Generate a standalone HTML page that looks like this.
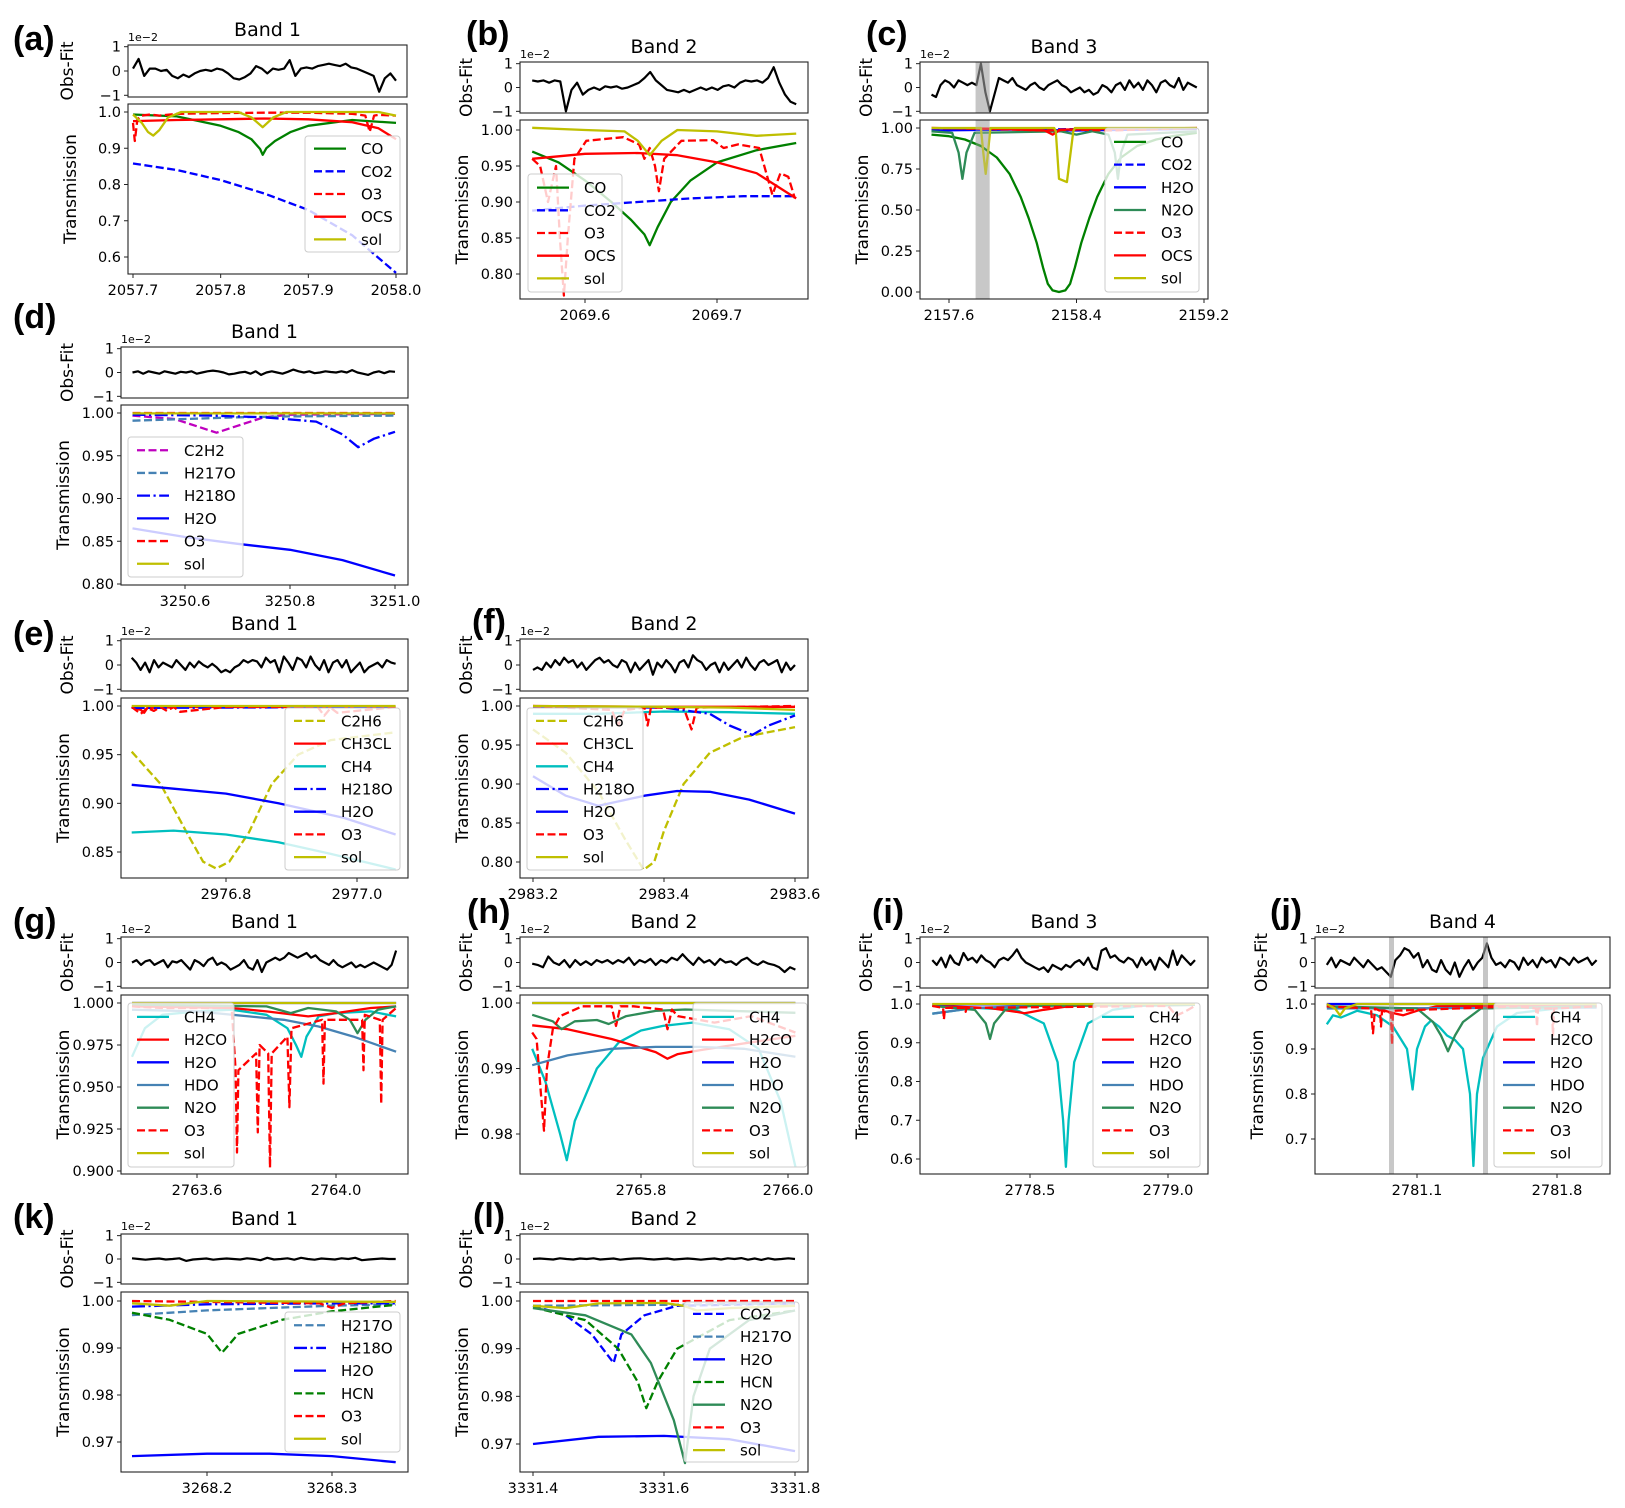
<!DOCTYPE html>
<html><head><meta charset="utf-8"><title>Retrieval fits</title>
<style>
html,body{margin:0;padding:0;background:#fff;}
svg{display:block;font-family:"DejaVu Sans","Liberation Sans",sans-serif;}
</style></head>
<body>
<svg id="fig" xmlns="http://www.w3.org/2000/svg" width="1625" height="1508" viewBox="0 0 1625 1508"></svg>
<script>
// ---------- data arrays ----------
// panel a
const a_CO_wn=[2057.7,2057.75,2057.8,2057.82,2057.835,2057.845,2057.848,2057.852,2057.862,2057.88,2057.9,2057.95,2058.0];
const a_CO_tr=[0.993,0.988,0.962,0.945,0.925,0.898,0.882,0.9,0.92,0.945,0.962,0.978,0.97];
const a_CO2_wn=[2057.7,2057.75,2057.8,2057.85,2057.9,2057.95,2058.0];
const a_CO2_tr=[0.858,0.84,0.812,0.775,0.73,0.66,0.556];
const a_O3_wn=[2057.7,2057.702,2057.705,2057.71,2057.72,2057.73,2057.75,2057.8,2057.85,2057.9,2057.95,2057.965,2057.97,2057.975,2057.98,2058.0];
const a_O3_tr=[0.97,0.92,0.98,0.99,0.993,0.99,0.995,0.997,0.998,0.998,0.995,0.99,0.945,0.99,0.992,0.99];
const a_OCS_wn=[2057.7,2057.75,2057.8,2057.85,2057.9,2057.95,2057.98,2058.0];
const a_OCS_tr=[0.975,0.978,0.98,0.982,0.98,0.972,0.955,0.925];
const a_sol_wn=[2057.7,2057.71,2057.717,2057.723,2057.73,2057.74,2057.755,2057.82,2057.835,2057.848,2057.86,2057.875,2057.98,2058.0];
const a_sol_tr=[0.993,0.97,0.945,0.935,0.95,0.985,1.0,1.0,0.985,0.958,0.985,1.0,1.0,0.99];
const a_res=[0.1,0.5,-0.2,0.1,0.1,0,0.05,-0.2,-0.3,-0.15,-0.25,-0.1,0,0.05,0,0.1,0.05,-0.1,-0.3,-0.35,-0.25,-0.1,0.2,0.1,-0.1,0.1,0.05,0.1,0.45,-0.2,0.1,0.15,0.1,0.2,0.25,0.3,0.25,0.2,0.3,0.15,0.1,0,-0.1,-0.2,-0.85,-0.3,-0.1,-0.4];
// panel b
const b_CO_wn=[2069.56,2069.58,2069.6,2069.62,2069.635,2069.645,2069.649,2069.655,2069.665,2069.68,2069.7,2069.73,2069.76];
const b_CO_tr=[0.97,0.955,0.93,0.9,0.875,0.855,0.84,0.865,0.9,0.93,0.955,0.972,0.982];
const b_CO2_wn=[2069.56,2069.6,2069.64,2069.68,2069.72,2069.76];
const b_CO2_tr=[0.888,0.895,0.9,0.905,0.908,0.908];
const b_O3_wn=[2069.56,2069.566,2069.572,2069.578,2069.581,2069.584,2069.587,2069.592,2069.601,2069.629,2069.641,2069.645,2069.649,2069.653,2069.656,2069.66,2069.673,2069.697,2069.705,2069.716,2069.732,2069.742,2069.748,2069.754,2069.759];
const b_O3_tr=[0.96,0.95,0.9,0.95,0.85,0.77,0.85,0.96,0.985,0.99,0.98,0.96,0.975,0.95,0.915,0.96,0.985,0.986,0.975,0.98,0.975,0.91,0.94,0.935,0.905];
const b_OCS_wn=[2069.56,2069.6,2069.64,2069.67,2069.7,2069.73,2069.76];
const b_OCS_tr=[0.96,0.967,0.968,0.965,0.955,0.94,0.905];
const b_sol_wn=[2069.56,2069.6,2069.63,2069.64,2069.649,2069.658,2069.67,2069.7,2069.73,2069.76];
const b_sol_tr=[1.003,1.0,0.998,0.985,0.965,0.985,1.0,0.998,0.992,0.995];
const b_res=[0.3,0.25,0.3,0.2,0.3,0.25,-1.0,-0.1,0.2,-0.3,-0.1,0,-0.1,0.05,0,0.05,-0.05,0,0.1,0.2,0.4,0.65,0.3,0.1,-0.1,-0.15,-0.2,-0.1,-0.2,-0.1,0,-0.1,0,-0.1,0.05,0.1,0,0.2,0.3,0.25,0.3,0.2,0.4,0.85,0.2,-0.3,-0.6,-0.7];
// panel c
const c_CO_wn=[2157.49,2157.6,2157.7,2157.8,2157.9,2157.98,2158.05,2158.1,2158.15,2158.19,2158.22,2158.25,2158.29,2158.33,2158.36,2158.39,2158.43,2158.48,2158.53,2158.6,2158.68,2158.78,2158.9,2159.0,2159.155];
const c_CO_tr=[0.96,0.95,0.93,0.89,0.82,0.72,0.58,0.45,0.3,0.15,0.05,0.01,0.0,0.01,0.05,0.15,0.3,0.45,0.58,0.72,0.82,0.89,0.93,0.95,0.97];
const c_CO2_wn=[2157.49,2159.155];
const c_CO2_tr=[0.99,0.995];
const c_H2O_wn=[2157.49,2158.0,2158.4,2159.155];
const c_H2O_tr=[0.985,0.99,0.985,0.995];
const c_N2O_wn=[2157.49,2157.62,2157.66,2157.684,2157.71,2157.76,2158.3,2158.4,2158.5,2158.6,2158.64,2158.66,2158.68,2158.72,2159.155];
const c_N2O_tr=[0.98,0.97,0.85,0.69,0.85,0.97,0.98,0.96,0.98,0.96,0.85,0.69,0.85,0.96,0.98];
const c_O3_wn=[2157.49,2157.8,2158.0,2158.2,2158.4,2158.6,2158.8,2159.155];
const c_O3_tr=[1.0,0.995,0.99,0.985,0.99,0.985,0.99,1.0];
const c_OCS_wn=[2157.49,2157.9,2158.2,2158.25,2158.3,2158.6,2159.155];
const c_OCS_tr=[1.0,0.995,0.985,0.96,0.99,0.995,1.0];
const c_sol_wn=[2157.49,2157.8,2157.815,2157.83,2157.845,2157.86,2158.26,2158.27,2158.29,2158.34,2158.38,2158.39,2159.155];
const c_sol_tr=[1.0,1.0,0.85,0.72,0.85,1.0,1.0,0.98,0.69,0.67,0.98,1.0,1.0];
const c_bands=[[2157.767,2157.855]];
const c_res=[-0.3,-0.4,0.1,0.3,0.2,0,0.3,0.2,0.1,0.2,0.1,1.0,-0.2,-1.0,-0.3,0.4,0.3,0.2,0.4,0.1,0,-0.1,0.1,0.2,0,-0.1,0.1,0.2,0.3,0.1,0,-0.2,-0.1,0,-0.2,-0.1,-0.3,-0.2,0.1,0,-0.2,0.1,0.2,-0.1,0.3,0,0.2,-0.1,0.3,0.1,-0.2,0.2,0.3,0.1,0,0.4,-0.1,0.2,0.1,0];
// panel d
const d_C2H2_wn=[3250.5,3250.58,3250.62,3250.66,3250.7,3250.75,3250.8,3251.0];
const d_C2H2_tr=[0.997,0.993,0.985,0.977,0.985,0.995,0.998,0.999];
const d_H217O_wn=[3250.5,3250.6,3250.7,3250.8,3251.0];
const d_H217O_tr=[0.991,0.993,0.995,0.996,0.997];
const d_H218O_wn=[3250.5,3250.65,3250.75,3250.85,3250.9,3250.93,3250.96,3251.0];
const d_H218O_tr=[0.998,0.997,0.995,0.99,0.975,0.96,0.97,0.978];
const d_H2O_wn=[3250.5,3250.6,3250.7,3250.8,3250.9,3251.0];
const d_H2O_tr=[0.865,0.855,0.847,0.84,0.828,0.81];
const d_O3_wn=[3250.5,3251.0];
const d_O3_tr=[1.0,1.0];
const d_sol_wn=[3250.5,3251.0];
const d_sol_tr=[0.9995,0.9995];
const d_res=[0,0.05,-0.05,0.05,0,-0.05,0.05,0,-0.05,0.03,0,0.05,-0.05,0,0.05,0.08,0.05,0,-0.08,-0.05,0,0.03,-0.05,0.05,-0.1,0,0.05,0,-0.05,0.03,0.12,0.05,0,0.05,-0.03,0,0.05,0.02,0,0.05,0,0.1,0,-0.05,-0.1,0,0.05,-0.03,0.05,0.03];
// panel e
const e_C2H6_wn=[2976.656,2976.7,2976.74,2976.765,2976.785,2976.805,2976.835,2976.87,2976.91,2976.96,2977.059];
const e_C2H6_tr=[0.953,0.92,0.87,0.84,0.833,0.84,0.87,0.92,0.95,0.965,0.973];
const e_CH3CL_wn=[2976.656,2976.67,2976.675,2976.68,2976.75,2977.059];
const e_CH3CL_tr=[0.999,0.996,0.993,0.998,0.999,0.999];
const e_CH4_wn=[2976.656,2976.72,2976.8,2976.88,2976.96,2977.059];
const e_CH4_tr=[0.87,0.872,0.868,0.86,0.848,0.832];
const e_H218O_wn=[2976.656,2977.059];
const e_H218O_tr=[0.998,0.999];
const e_H2O_wn=[2976.656,2976.72,2976.8,2976.88,2976.98,2977.059];
const e_H2O_tr=[0.919,0.915,0.91,0.9,0.885,0.868];
const e_O3_wn=[2976.656,2976.67,2976.68,2976.69,2976.7,2976.71,2976.72,2976.73,2976.8,2976.94,2976.95,2976.96,2976.97,2977.059];
const e_O3_tr=[0.999,0.992,0.998,0.995,0.999,0.995,0.999,0.994,0.999,0.999,0.99,0.998,0.993,0.999];
const e_sol_wn=[2976.656,2977.059];
const e_sol_tr=[1.0,1.0];
const e_res=[0.3,0.1,-0.2,0.1,-0.3,0.2,-0.1,0.1,0,-0.1,0.2,0,-0.2,0.1,-0.1,0.15,0,-0.1,0.05,-0.1,-0.3,-0.2,-0.3,-0.1,0,0.2,0.1,0.2,0.15,-0.1,0.3,0.1,0.2,-0.3,0.35,0.1,-0.2,0.3,0.2,-0.1,0.35,0,-0.2,0.2,-0.3,0.1,0.2,-0.1,0.2,-0.3,-0.1,0.1,-0.3,-0.1,0,0.1,-0.1,0.2,0.1,0.05];
// panel f
const f_C2H6_wn=[2983.2,2983.25,2983.3,2983.34,2983.369,2983.385,2983.4,2983.43,2983.47,2983.52,2983.6];
const f_C2H6_tr=[0.97,0.94,0.89,0.83,0.79,0.8,0.84,0.9,0.94,0.96,0.973];
const f_CH3CL_wn=[2983.2,2983.4,2983.5,2983.6];
const f_CH3CL_tr=[1.0,0.999,0.999,0.999];
const f_CH4_wn=[2983.2,2983.3,2983.4,2983.5,2983.6];
const f_CH4_tr=[0.99,0.99,0.993,0.992,0.99];
const f_H218O_wn=[2983.2,2983.4,2983.47,2983.5,2983.535,2983.56,2983.6];
const f_H218O_tr=[0.999,0.998,0.99,0.975,0.963,0.975,0.988];
const f_H2O_wn=[2983.2,2983.25,2983.3,2983.37,2983.42,2983.47,2983.53,2983.6];
const f_H2O_tr=[0.91,0.885,0.872,0.885,0.891,0.89,0.88,0.862];
const f_O3_wn=[2983.2,2983.32,2983.33,2983.34,2983.37,2983.375,2983.38,2983.43,2983.442,2983.45,2983.6];
const f_O3_tr=[1.0,0.995,0.975,0.995,0.998,0.975,0.998,0.998,0.97,0.998,1.0];
const f_sol_wn=[2983.2,2983.4,2983.5,2983.6];
const f_sol_tr=[1.0,0.999,0.998,0.995];
const f_res=[-0.2,-0.1,-0.2,0.1,-0.1,0.2,0,0.3,0.1,0.2,-0.1,0.1,-0.2,0,0.2,0.3,0.1,0.2,0,-0.1,0.2,0.1,-0.3,0.1,-0.2,0,0.2,-0.4,0.1,-0.1,0.2,0,-0.3,0.1,0.2,-0.1,0.4,0.2,0.1,-0.2,0,0.1,-0.3,0.1,-0.2,0,0.2,-0.1,0.3,0,-0.2,0.1,0.2,0,0.1,0.2,-0.3,0.1,-0.2,0];
// panel g
const g_CH4_wn=[2763.413,2763.45,2763.5,2763.6,2763.7,2763.8,2763.86,2763.885,2763.9,2763.915,2763.95,2764.0,2764.1,2764.173];
const g_CH4_tr=[0.968,0.985,0.993,0.995,0.996,0.993,0.985,0.975,0.968,0.98,0.992,0.994,0.995,0.992];
const g_H2CO_wn=[2763.413,2763.7,2763.8,2763.92,2764.0,2764.1,2764.173];
const g_H2CO_tr=[0.998,0.997,0.995,0.992,0.994,0.997,0.998];
const g_H2O_wn=[2763.413,2764.173];
const g_H2O_tr=[1.0,1.0];
const g_HDO_wn=[2763.413,2763.6,2763.75,2763.85,2763.95,2764.05,2764.173];
const g_HDO_tr=[0.996,0.995,0.992,0.99,0.986,0.98,0.971];
const g_N2O_wn=[2763.413,2763.8,2763.87,2763.92,2764.0,2764.04,2764.062,2764.085,2764.12,2764.173];
const g_N2O_tr=[0.999,0.998,0.994,0.997,0.995,0.99,0.982,0.99,0.996,0.998];
const g_O3_wn=[2763.413,2763.5,2763.7,2763.711,2763.715,2763.719,2763.77,2763.775,2763.78,2763.805,2763.81,2763.815,2763.86,2763.866,2763.872,2763.96,2763.964,2763.968,2764.075,2764.079,2764.083,2764.126,2764.13,2764.134,2764.173];
const g_O3_tr=[0.998,0.997,0.997,0.96,0.911,0.96,0.97,0.923,0.975,0.97,0.902,0.97,0.98,0.938,0.985,0.99,0.952,0.99,0.99,0.96,0.993,0.99,0.94,0.99,0.997];
const g_sol_wn=[2763.413,2764.173];
const g_sol_tr=[1.0,1.0];
const g_res=[0,0.1,-0.1,0.05,0.1,-0.1,0,0.1,-0.2,0.05,0,0.1,-0.1,-0.3,0.1,0,-0.15,0.1,0.2,-0.1,0,-0.1,-0.3,-0.2,-0.1,0.1,-0.2,-0.3,0.1,-0.4,0,0.1,0.2,0.1,0.2,0.4,0.3,0.2,0.3,0.4,0.2,0.3,0.1,0,-0.1,0.1,-0.1,-0.2,-0.1,0,-0.2,-0.1,-0.2,-0.1,0,-0.1,-0.2,-0.3,-0.1,0.5];
// panel h
const h_CH4_wn=[2765.652,2765.67,2765.69,2765.699,2765.71,2765.74,2765.77,2765.8,2765.83,2765.87,2765.92,2765.96,2765.99,2766.01];
const h_CH4_tr=[0.993,0.988,0.98,0.976,0.982,0.99,0.994,0.9958,0.9965,0.997,0.996,0.993,0.985,0.975];
const h_H2CO_wn=[2765.652,2765.7,2765.76,2765.82,2765.836,2765.85,2765.88,2765.92,2766.01];
const h_H2CO_tr=[0.9966,0.996,0.9945,0.9925,0.9915,0.9922,0.9928,0.9935,0.995];
const h_H2O_wn=[2765.652,2766.01];
const h_H2O_tr=[1.0,1.0];
const h_HDO_wn=[2765.652,2765.7,2765.76,2765.82,2765.88,2765.94,2766.01];
const h_HDO_tr=[0.9905,0.992,0.993,0.9933,0.9933,0.993,0.9918];
const h_N2O_wn=[2765.652,2765.68,2765.692,2765.71,2765.74,2765.756,2765.78,2765.82,2765.86,2766.01];
const h_N2O_tr=[0.9982,0.9972,0.996,0.9972,0.9974,0.9968,0.998,0.9988,0.999,0.9985];
const h_O3_wn=[2765.652,2765.658,2765.664,2765.668,2765.672,2765.68,2765.69,2765.72,2765.76,2765.766,2765.772,2765.79,2765.83,2765.836,2765.842,2765.85,2765.9,2765.95,2766.01];
const h_O3_tr=[0.9955,0.9945,0.986,0.9805,0.99,0.996,0.998,0.9995,0.9995,0.9965,0.9995,0.9995,0.999,0.996,0.999,0.998,0.997,0.998,0.9955];
const h_sol_wn=[2765.652,2766.01];
const h_sol_tr=[1.0,1.0];
const h_res=[-0.05,-0.1,-0.2,0.25,0,-0.1,0.1,-0.2,0.1,-0.1,0.05,-0.1,0.1,0,0.1,-0.05,0.1,0,0.2,-0.1,0.1,0,0.15,-0.1,0.1,0,0.2,0.1,0.35,0.1,-0.1,0.2,0,0.1,-0.1,0.15,0,0.05,-0.1,0.1,0.2,0,-0.1,0.05,-0.05,-0.1,-0.2,-0.4,-0.2,-0.3];
// panel i
const i_CH4_wn=[2778.146,2778.3,2778.45,2778.55,2778.6,2778.62,2778.63,2778.64,2778.66,2778.71,2778.8,2778.9,2779.098];
const i_CH4_tr=[0.975,0.99,0.985,0.95,0.85,0.7,0.58,0.7,0.85,0.95,0.985,0.995,0.998];
const i_H2CO_wn=[2778.146,2778.35,2778.45,2778.48,2778.55,2778.65,2779.098];
const i_H2CO_tr=[0.995,0.99,0.98,0.976,0.985,0.995,0.998];
const i_H2O_wn=[2778.146,2779.098];
const i_H2O_tr=[0.999,0.999];
const i_HDO_wn=[2778.146,2778.3,2778.6,2779.098];
const i_HDO_tr=[0.975,0.99,0.997,0.998];
const i_N2O_wn=[2778.146,2778.3,2778.34,2778.355,2778.37,2778.41,2778.5,2779.098];
const i_N2O_tr=[0.995,0.985,0.95,0.91,0.95,0.985,0.995,0.998];
const i_O3_wn=[2778.146,2778.185,2778.188,2778.192,2778.264,2778.267,2778.27,2779.0,2779.03,2779.06,2779.098];
const i_O3_tr=[0.995,0.99,0.96,0.99,0.99,0.98,0.99,0.995,0.97,0.98,0.995];
const i_sol_wn=[2778.146,2779.098];
const i_sol_tr=[1.0,1.0];
const i_res=[0.1,-0.1,0.2,-0.2,0.3,0,-0.1,0.4,0.1,0.2,0,0.3,0.1,0,-0.2,0.1,0.2,0.1,0.3,0.55,0.2,0,-0.1,-0.2,-0.3,-0.2,-0.4,-0.1,-0.2,-0.3,-0.1,-0.2,0,0.1,-0.1,0.2,-0.2,-0.3,0.5,0.6,0.2,0.3,0.1,0,0.2,0.1,-0.2,0.2,-0.1,0.1,-0.3,0.2,0,-0.2,0.5,-0.1,0.3,0.1,-0.1,0.1];
// panel j
const j_CH4_wn=[2780.649,2780.68,2780.72,2780.8,2780.9,2780.98,2781.05,2781.078,2781.1,2781.14,2781.17,2781.21,2781.25,2781.29,2781.33,2781.365,2781.382,2781.4,2781.43,2781.5,2781.6,2781.8,2781.998];
const j_CH4_tr=[0.955,0.975,0.97,0.985,0.975,0.95,0.9,0.81,0.9,0.95,0.963,0.95,0.93,0.92,0.9,0.8,0.64,0.8,0.88,0.95,0.98,0.99,0.995];
const j_H2CO_wn=[2780.649,2780.9,2780.98,2781.03,2781.1,2781.2,2781.998];
const j_H2CO_tr=[0.995,0.99,0.98,0.975,0.985,0.995,0.998];
const j_H2O_wn=[2780.649,2781.998];
const j_H2O_tr=[1.0,1.0];
const j_HDO_wn=[2780.649,2781.998];
const j_HDO_tr=[0.99,0.992];
const j_N2O_wn=[2780.649,2781.1,2781.18,2781.22,2781.255,2781.29,2781.33,2781.42,2781.998];
const j_N2O_tr=[0.995,0.99,0.96,0.93,0.895,0.93,0.96,0.99,0.995];
const j_O3_wn=[2780.649,2780.87,2780.88,2780.89,2780.915,2780.92,2780.925,2780.97,2780.975,2780.98,2781.6,2781.695,2781.7,2781.705,2781.775,2781.78,2781.785,2781.998];
const j_O3_tr=[0.995,0.99,0.935,0.99,0.985,0.95,0.985,0.98,0.91,0.985,0.995,0.99,0.95,0.99,0.99,0.93,0.99,0.995];
const j_sol_wn=[2780.649,2780.69,2780.715,2780.74,2780.8,2781.998];
const j_sol_tr=[1.0,0.99,0.975,0.99,1.0,1.0];
const j_bands=[[2780.96,2780.985],[2781.43,2781.455]];
const j_res=[-0.1,0.2,-0.2,0.1,0,-0.1,0.2,0,-0.2,0.1,-0.1,-0.3,-0.2,-0.4,-0.6,0.1,0.3,0.6,0.5,0.2,0.4,-0.2,0.1,-0.3,-0.4,0.1,-0.3,-0.5,0,-0.6,-0.2,0.1,-0.3,0,0.2,0.8,0.2,-0.1,0,-0.2,0.1,0,-0.3,0.2,-0.1,0.1,-0.2,0.2,0,0.1,-0.2,0.2,0.1,-0.1,0.2,0,0.1,0.2,-0.1,0.1];
// panel k
const k_H217O_wn=[3268.14,3268.2,3268.25,3268.3,3268.351];
const k_H217O_tr=[0.997,0.998,0.9985,0.999,0.9993];
const k_H218O_wn=[3268.14,3268.2,3268.3,3268.351];
const k_H218O_tr=[0.9988,0.9993,0.9995,0.9995];
const k_H2O_wn=[3268.14,3268.2,3268.25,3268.3,3268.351];
const k_H2O_tr=[0.967,0.9675,0.9675,0.967,0.9657];
const k_HCN_wn=[3268.14,3268.17,3268.2,3268.212,3268.225,3268.26,3268.3,3268.351];
const k_HCN_tr=[0.9975,0.996,0.993,0.989,0.993,0.996,0.9978,0.9992];
const k_O3_wn=[3268.14,3268.29,3268.3,3268.31,3268.351];
const k_O3_tr=[1.0,0.9995,0.9985,0.9995,1.0];
const k_sol_wn=[3268.14,3268.17,3268.2,3268.351];
const k_sol_tr=[0.9995,0.999,1.0,0.9998];
const k_res=[0.03,0,-0.03,0,0.02,-0.02,0,0.03,-0.08,-0.02,0,0.02,-0.03,0,0.02,0,-0.02,0.03,0,-0.05,0.05,-0.02,0,0.03,-0.03,0.05,0,-0.03,0.02,0,-0.02,0.03,0,0.05,-0.05,-0.02,0,0.02,0,0];
// panel l
const l_CO2_wn=[3331.4,3331.45,3331.49,3331.523,3331.535,3331.57,3331.62,3331.8];
const l_CO2_tr=[0.999,0.997,0.993,0.987,0.993,0.997,0.999,0.9995];
const l_H217O_wn=[3331.4,3331.6,3331.8];
const l_H217O_tr=[0.999,0.9992,0.9995];
const l_H2O_wn=[3331.4,3331.5,3331.6,3331.7,3331.8];
const l_H2O_tr=[0.97,0.9715,0.9717,0.971,0.9685];
const l_HCN_wn=[3331.4,3331.48,3331.53,3331.56,3331.573,3331.59,3331.62,3331.7,3331.8];
const l_HCN_tr=[0.9987,0.996,0.99,0.983,0.9775,0.983,0.99,0.996,0.998];
const l_N2O_wn=[3331.4,3331.48,3331.55,3331.58,3331.615,3331.632,3331.645,3331.67,3331.73,3331.8];
const l_N2O_tr=[0.9985,0.997,0.993,0.987,0.975,0.966,0.98,0.99,0.996,0.998];
const l_O3_wn=[3331.4,3331.8];
const l_O3_tr=[1.0,1.0];
const l_sol_wn=[3331.4,3331.45,3331.5,3331.6,3331.63,3331.65,3331.7,3331.8];
const l_sol_tr=[0.999,0.9985,0.9995,0.9996,0.999,0.998,0.9985,0.999];
const l_res=[0,0.02,0,-0.02,0.03,0,-0.02,0.02,0,0.03,-0.02,0,0.02,-0.03,0,0.02,0.03,0,-0.02,0,0.02,-0.02,0,0.02,0,-0.03,0,0.02,-0.02,0.03,0,0.04,-0.03,0.02,-0.04,0.03,-0.02,0,0.03,0];

// tick labels
const a_xt=["2057.7","2057.8","2057.9","2058.0"], a_yt=["1.0","0.9","0.8","0.7","0.6"];
const b_xt=["2069.6","2069.7"], b_yt=["1.00","0.95","0.90","0.85","0.80"];
const c_xt=["2157.6","2158.4","2159.2"], c_yt=["1.00","0.75","0.50","0.25","0.00"];
const d_xt=["3250.6","3250.8","3251.0"], d_yt=["1.00","0.95","0.90","0.85","0.80"];
const e_xt=["2976.8","2977.0"], e_yt=["1.00","0.95","0.90","0.85"];
const f_xt=["2983.2","2983.4","2983.6"], f_yt=["1.00","0.95","0.90","0.85","0.80"];
const g_xt=["2763.6","2764.0"], g_yt=["1.000","0.975","0.950","0.925","0.900"];
const h_xt=["2765.8","2766.0"], h_yt=["1.00","0.99","0.98"];
const i_xt=["2778.5","2779.0"], i_yt=["1.0","0.9","0.8","0.7","0.6"];
const j_xt=["2781.1","2781.8"], j_yt=["1.0","0.9","0.8","0.7"];
const k_xt=["3268.2","3268.3"], k_yt=["1.00","0.99","0.98","0.97"];
const l_xt=["3331.4","3331.6","3331.8"], l_yt=["1.00","0.99","0.98","0.97"];

// ---------- styles & layout ----------
const STY={CO:['#008000','s'],CO2:['#0000ff','d'],O3:['#ff0000','d'],OCS:['#ff0000','s'],sol:['#bfbf00','s'],H2O:['#0000ff','s'],N2O:['#2e8b57','s'],C2H2:['#bf00bf','d'],H217O:['#4682b4','d'],H218O:['#0000ff','dd'],C2H6:['#bfbf00','d'],CH3CL:['#ff0000','s'],CH4:['#00bfbf','s'],H2CO:['#ff0000','s'],HDO:['#4682b4','s'],HCN:['#008000','d']};
const P=[
 {id:'a',band:'Band 1',L:128,R:407,o:[45,97],t:[104,274],xr:[2057.7,133,2058.0,396],yr:[1,112,0.6,257],rng:[2057.7,2058.0],sp:['CO','CO2','O3','OCS','sol'],leg:[305,136,95,116],lab:[13,50],ol:55},
 {id:'b',band:'Band 2',L:520,R:808,o:[62,113],t:[120,299],xr:[2069.6,585,2069.7,717],yr:[1,130,0.8,274],rng:[2069.56,2069.76],sp:['CO','CO2','O3','OCS','sol'],leg:[528,174,94,118],lab:[466,45],ol:48},
 {id:'c',band:'Band 3',L:920,R:1208,o:[62,113],t:[120,299],xr:[2157.6,949,2159.2,1204],yr:[1,128,0,292],rng:[2157.49,2159.155],sp:['CO','CO2','H2O','N2O','O3','OCS','sol'],leg:[1105,128,94,164],lab:[866,45],ol:48},
 {id:'d',band:'Band 1',L:121,R:408,o:[347,398],t:[405,585],xr:[3250.6,185,3251.0,395],yr:[1,413,0.8,584],rng:[3250.5,3251.0],sp:['C2H2','H217O','H218O','H2O','O3','sol'],leg:[128,437,115,140],lab:[13,328],ol:48},
 {id:'e',band:'Band 1',L:121,R:408,o:[639,691],t:[698,878],xr:[2976.8,226,2977.0,357],yr:[1,706,0.85,852],rng:[2976.656,2977.059],sp:['C2H6','CH3CL','CH4','H218O','H2O','O3','sol'],leg:[285,708,115,162],lab:[13,645],ol:48},
 {id:'f',band:'Band 2',L:520,R:808,o:[639,691],t:[698,878],xr:[2983.2,533,2983.6,795],yr:[1,706,0.8,862],rng:[2983.2,2983.6],sp:['C2H6','CH3CL','CH4','H218O','H2O','O3','sol'],leg:[527,708,116,162],lab:[472,633],ol:48},
 {id:'g',band:'Band 1',L:121,R:408,o:[937,988],t:[995,1174],xr:[2763.6,197,2764.0,336],yr:[1,1003,0.9,1171],rng:[2763.413,2764.173],sp:['CH4','H2CO','H2O','HDO','N2O','O3','sol'],leg:[128,1003,106,164],lab:[13,932],ol:48},
 {id:'h',band:'Band 2',L:520,R:808,o:[937,988],t:[995,1174],xr:[2765.8,641,2766.0,788],yr:[1,1003,0.98,1134],rng:[2765.652,2766.01],sp:['CH4','H2CO','H2O','HDO','N2O','O3','sol'],leg:[693,1003,114,164],lab:[467,923],ol:48},
 {id:'i',band:'Band 3',L:920,R:1208,o:[937,988],t:[995,1174],xr:[2778.5,1030,2779.0,1168],yr:[1,1004,0.6,1159],rng:[2778.146,2779.098],sp:['CH4','H2CO','H2O','HDO','N2O','O3','sol'],leg:[1093,1003,107,164],lab:[872,923],ol:48},
 {id:'j',band:'Band 4',L:1315,R:1610,o:[937,988],t:[995,1174],xr:[2781.1,1417,2781.8,1557],yr:[1,1004,0.7,1139],rng:[2780.649,2781.998],sp:['CH4','H2CO','H2O','HDO','N2O','O3','sol'],leg:[1494,1003,108,164],lab:[1270,923],ol:48},
 {id:'k',band:'Band 1',L:121,R:408,o:[1234,1284],t:[1292,1472],xr:[3268.2,207,3268.3,332],yr:[1,1301,0.97,1442],rng:[3268.14,3268.351],sp:['H217O','H218O','H2O','HCN','O3','sol'],leg:[285,1312,115,140],lab:[13,1228],ol:48},
 {id:'l',band:'Band 2',L:520,R:808,o:[1234,1284],t:[1292,1472],xr:[3331.4,533,3331.8,795],yr:[1,1301,0.97,1444],rng:[3331.4,3331.8],sp:['CO2','H217O','H2O','HCN','N2O','O3','sol'],leg:[684,1302,115,160],lab:[473,1227],ol:48}
];
function arr(name){try{return eval(name);}catch(e){return null;}}

const NS='http://www.w3.org/2000/svg';
const svg=document.getElementById('fig');
function mk(tag,attrs,parent){const el=document.createElementNS(NS,tag);for(const k in attrs)el.setAttribute(k,attrs[k]);(parent||svg).appendChild(el);return el;}
function txt(s,attrs,parent){const t=mk('text',attrs,parent);t.textContent=s;return t;}
function dashFor(st){return st==='d'?'8,3.5':st==='dd'?'13,3.5,2.2,3.5':'none';}

P.forEach(p=>{
 const g=mk('g',{});
 
 
 const sx=v=>p.xr[1]+(v-p.xr[0])*(p.xr[3]-p.xr[1])/(p.xr[2]-p.xr[0]);
 const sy=v=>p.yr[1]+(v-p.yr[0])*(p.yr[3]-p.yr[1])/(p.yr[2]-p.yr[0]);
 const W=p.R-p.L, oc=(p.o[0]+p.o[1])/2, oh=(p.o[1]-p.o[0])/2/1.07;
 const so=v=>oc-v*oh;
 const lb=txt('('+p.id+')',{x:p.lab[0],y:p.lab[1],'font-size':34,'font-weight':'bold','font-family':'"Liberation Sans",sans-serif'},g);
 
 
 const tt=txt(p.band,{x:(p.L+p.R)/2,y:p.o[0]-9,'font-size':19,'text-anchor':'middle'},g);
 
 
 const cid='clip'+p.id, oid='oclip'+p.id;
 const cp=mk('clipPath',{id:cid},g); mk('rect',{x:p.L,y:p.t[0],width:W,height:p.t[1]-p.t[0]},cp);
 const op=mk('clipPath',{id:oid},g); mk('rect',{x:p.L,y:p.o[0],width:W,height:p.o[1]-p.o[0]},op);
 const bands=arr(p.id+'_bands');
 if(bands){bands.forEach(b=>{[[p.o[0],p.o[1]],[p.t[0],p.t[1]]].forEach(yy=>{
  const r=mk('rect',{x:sx(b[0]),y:yy[0],width:sx(b[1])-sx(b[0]),height:yy[1]-yy[0],fill:'#bdbdbd','fill-opacity':0.75},g);
  
  });});}
 const res=arr(p.id+'_res');
 const rp=res.map((v,i)=>sx(p.rng[0]+i/(res.length-1)*(p.rng[1]-p.rng[0])).toFixed(1)+','+so(v).toFixed(1)).join(' ');
 const rl=mk('polyline',{points:rp,fill:'none',stroke:'#000','stroke-width':2.2,'stroke-linejoin':'round','clip-path':'url(#'+oid+')'},g);
 
 
 if(bands){bands.forEach(b=>{const r=mk('rect',{x:sx(b[0]),y:p.o[0],width:sx(b[1])-sx(b[0]),height:p.o[1]-p.o[0],fill:'#bdbdbd','fill-opacity':0.5},g);
  
  });}
 const ob=mk('rect',{x:p.L,y:p.o[0],width:W,height:p.o[1]-p.o[0],fill:'none',stroke:'#222','stroke-width':1.1},g);
 
 
 [[1,'1'],[0,'0'],[-1,'\u22121']].forEach(q=>{
  mk('line',{x1:p.L-4,x2:p.L,y1:so(q[0]),y2:so(q[0]),stroke:'#222'},g);
  const t=txt(q[1],{x:p.L-7,y:so(q[0])+5,'font-size':14.5,'text-anchor':'end'},g);
  
  
 });
 const e2=txt('1e\u22122',{x:p.L,y:p.o[0]-4,'font-size':11},g);
 
 
 const ol=txt('Obs-Fit',{x:0,y:0,'font-size':17,'text-anchor':'middle',transform:'translate('+(p.L-p.ol)+','+oc+') rotate(-90)'},g);
 
 
 p.sp.forEach(s=>{
  const xs=arr(p.id+'_'+s+'_wn'), ys=arr(p.id+'_'+s+'_tr');
  const pts=xs.map((x,i)=>sx(x).toFixed(1)+','+sy(ys[i]).toFixed(1)).join(' ');
  const st=STY[s];
  const pl=mk('polyline',{points:pts,fill:'none',stroke:st[0],'stroke-width':2.3,'stroke-dasharray':dashFor(st[1]),'stroke-linejoin':'round','clip-path':'url(#'+cid+')'},g);
  
  
 });
 if(bands){bands.forEach(b=>{const r=mk('rect',{x:sx(b[0]),y:p.t[0],width:sx(b[1])-sx(b[0]),height:p.t[1]-p.t[0],fill:'#bdbdbd','fill-opacity':0.35},g);
  
  });}
 const lg=mk('g',{},g);
 
 
 const [lx,ly,lw,lh]=p.leg;
 mk('rect',{x:lx,y:ly,width:lw,height:lh,rx:3,fill:'#fff','fill-opacity':0.8,stroke:'#cccccc','stroke-width':1},lg);
 const n=p.sp.length, step=22.7, first=ly+(lh-(n-1)*step)/2;
 p.sp.forEach((s,i)=>{
  const cy=first+i*step, st=STY[s];
  const e=mk('g',{},lg);
  
  
  mk('line',{x1:lx+9,x2:lx+41,y1:cy,y2:cy,stroke:st[0],'stroke-width':2.3,'stroke-dasharray':dashFor(st[1])},e);
  txt(s,{x:lx+56,y:cy+5.5,'font-size':15},e);
 });
 const tb=mk('rect',{x:p.L,y:p.t[0],width:W,height:p.t[1]-p.t[0],fill:'none',stroke:'#222','stroke-width':1.1},g);
 
 
 arr(p.id+'_yt').forEach(s=>{const v=parseFloat(s),y=sy(v);
  mk('line',{x1:p.L-4,x2:p.L,y1:y,y2:y,stroke:'#222'},g);
  const t=txt(s,{x:p.L-7,y:y+5,'font-size':14.5,'text-anchor':'end'},g);
  
  });
 arr(p.id+'_xt').forEach(s=>{const v=parseFloat(s),x=sx(v);
  mk('line',{x1:x,x2:x,y1:p.t[1],y2:p.t[1]+4,stroke:'#222'},g);
  const t=txt(s,{x:x,y:p.t[1]+21,'font-size':14.5,'text-anchor':'middle'},g);
  
  });
 const yl=txt('Transmission',{x:0,y:0,'font-size':17,'text-anchor':'middle',transform:'translate('+(p.L-52)+','+((p.t[0]+p.t[1])/2)+') rotate(-90)'},g);
 
 
});
</script>
</body></html>
